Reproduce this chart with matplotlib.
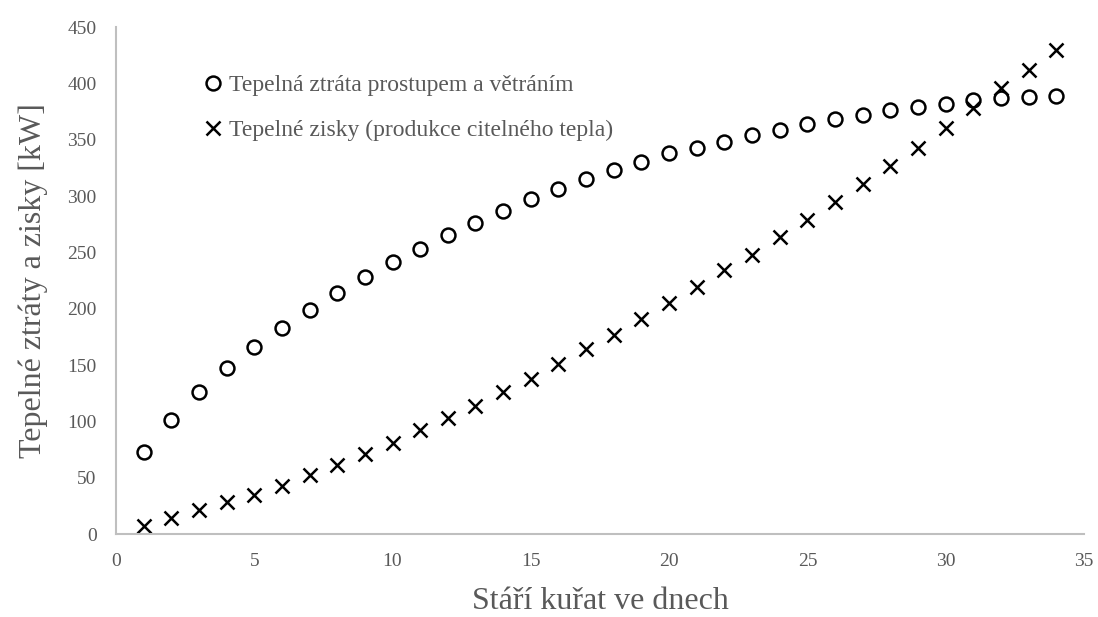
import numpy as np
import matplotlib
matplotlib.use('Agg')
import matplotlib.pyplot as plt

# Data
days = list(range(1, 35))
heat_loss = [73, 101, 126, 147, 166, 183, 199, 214, 228, 241,
             253, 265, 276, 287, 297, 306, 315, 323, 330, 338,
             343, 348, 354, 359, 364, 368, 372, 376, 379, 382,
             385, 387, 388, 389]
heat_gain = [7, 14, 21, 28, 35, 43, 52, 61, 71, 81,
             92, 103, 114, 126, 138, 151, 164, 177, 191, 205,
             219, 234, 248, 264, 279, 295, 311, 327, 343, 360,
             378, 396, 412, 430]

loss_label = 'Tepelná ztráta prostupem a větráním'
gain_label = 'Tepelné zisky (produkce citelného tepla)'
x_title = 'Stáří kuřat ve dnech'
y_title = 'Tepelné ztráty a zisky [kW]'

plt.rcParams['font.family'] = ['Liberation Serif', 'DejaVu Serif']
GRAY = '#595959'
SPINE = '#bfbfbf'

fig = plt.figure(figsize=(10.98, 6.17), dpi=100)
ax = fig.add_axes([0.1056, 0.1345, 0.8816, 0.8217])

ax.plot(days, heat_loss, linestyle='none', marker='o', markersize=10,
        markerfacecolor='none', markeredgecolor='black', markeredgewidth=1.8,
        label=loss_label)
ax.plot(days, heat_gain, linestyle='none', marker='x', markersize=10,
        color='black', markeredgewidth=1.8, label=gain_label)

ax.set_xlim(0, 35)
ax.set_ylim(0, 450)
ax.set_xticks(np.arange(0, 36, 5))
ax.set_yticks(np.arange(0, 451, 50))

for side in ['top', 'right']:
    ax.spines[side].set_visible(False)
for side in ['left', 'bottom']:
    ax.spines[side].set_color(SPINE)
    ax.spines[side].set_linewidth(1.5)

ax.tick_params(axis='both', length=0, labelsize=14, labelcolor=GRAY)
ax.tick_params(axis='x', pad=14)
ax.tick_params(axis='y', pad=14)

ax.set_xlabel(x_title, fontsize=23, color=GRAY, labelpad=12)
ax.set_ylabel(y_title, fontsize=23, color=GRAY, labelpad=14)

leg = ax.legend(loc='upper left', bbox_to_anchor=(0.081, 0.925), frameon=False,
                fontsize=17, handlelength=0.8, handletextpad=0.27,
                labelspacing=1.0, borderaxespad=0)
for t in leg.get_texts():
    t.set_color(GRAY)

fig.savefig('out.png', dpi=100)
